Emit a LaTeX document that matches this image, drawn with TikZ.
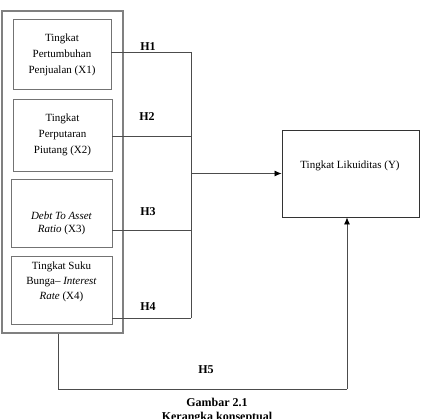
\documentclass[tikz,border=0pt]{standalone}
\usepackage{fontspec}
\setmainfont{Liberation Serif}
\usetikzlibrary{arrows.meta}
\begin{document}
\begin{tikzpicture}[x=1pt,y=-1pt,
  varbox/.style={draw=black!55,line width=0.9pt,inner sep=0pt},
  vartext/.style={align=center,inner sep=0pt,font=\fontsize{11}{16}\selectfont},
  framebox/.style={draw=black!50,line width=1.1pt,inner sep=0pt},
  link/.style={draw=black!70,line width=0.8pt},
  arrowlink/.style={link,-{Latex[length=7pt,width=6pt,fill=black,color=black]}},
  hlabel/.style={font=\fontsize{12}{14}\selectfont\bfseries,inner sep=0pt},
  caption/.style={font=\fontsize{12}{14}\selectfont\bfseries,inner sep=0pt}]
\useasboundingbox (0,0) rectangle (423,419);

% group of independent variables
\node[framebox,minimum width=121pt,minimum height=322pt] (outer) at (62.5,172) {};
\node[varbox,minimum width=98pt,minimum height=70pt] (x1) at (62,54) {};
\node[varbox,minimum width=99pt,minimum height=72pt] (x2) at (62.5,135) {};
\node[varbox,minimum width=101pt,minimum height=68pt] (x3) at (61.5,213) {};
\node[varbox,minimum width=101pt,minimum height=68pt] (x4) at (61.5,290) {};
\node[vartext] (x1t) at (62,55) {Tingkat\\Pertumbuhan\\Penjualan (X1)};
\node[vartext] (x2t) at (62.5,135) {Tingkat\\Perputaran\\Piutang (X2)};
\node[vartext,font=\fontsize{11}{13}\selectfont] (x3t) at (61.5,223)
  {\textit{Debt To Asset}\\\textit{Ratio} (X3)};
\node[vartext,font=\fontsize{11}{15}\selectfont] (x4t) at (61.5,282)
  {Tingkat Suku\\Bunga-- \textit{Interest}\\\textit{Rate} (X4)};

% dependent variable
\node[varbox,draw=black!80,minimum width=137pt,minimum height=87pt] (y) at (350.5,173.5) {};
\node[vartext] (yt) at (350,166) {Tingkat Likuiditas (Y)};

% collecting bus
\coordinate (bt) at (191,52);
\coordinate (b2) at (191,136);
\coordinate (b3) at (191,230);
\coordinate (bb) at (191,318);
\draw[link] (bt) -- (bb);
\draw[link] (x1.east |- bt) -- (bt);
\draw[link] (x2.east |- b2) -- (b2);
\draw[link] (x3.east |- b3) -- (b3);
\draw[link] (x4.east |- bb) -- (bb);
\draw[arrowlink] (y.west -| bt) -- (y.west);

% direct path from the whole group
\coordinate (h5l) at (58,389);
\coordinate (h5r) at (347,389);
\draw[link] (outer.south -| h5l) -- (h5l) -- (h5r);
\draw[arrowlink] (h5r) -- (y.south -| h5r);

% hypothesis labels
\node[hlabel] (h1) at (148,47) {H1};
\node[hlabel] (h2) at (147,117) {H2};
\node[hlabel] (h3) at (148,212) {H3};
\node[hlabel] (h4) at (148,307) {H4};
\node[hlabel] (h5) at (206,370) {H5};

% caption
\node[caption] (cap1) at (217,402) {Gambar 2.1};
\node[caption] (cap2) at (217,418) {Kerangka konseptual};
\end{tikzpicture}
\end{document}
